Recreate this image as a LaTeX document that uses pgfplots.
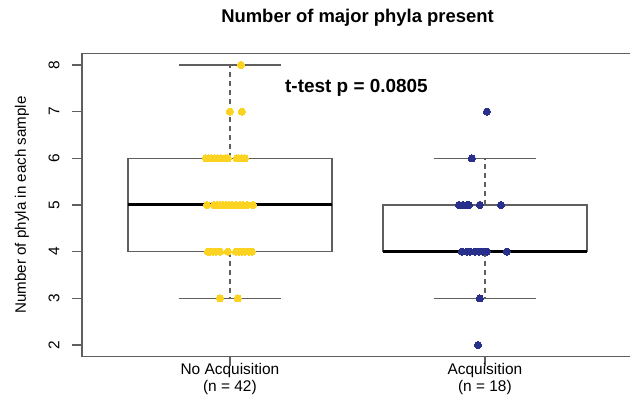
\documentclass[border=0pt]{standalone}
\usepackage{fontspec}
\setmainfont{Liberation Sans}
\usepackage{pgfplots}
\pgfplotsset{compat=1.18}
\definecolor{ptyellow}{RGB}{252,211,33}
\definecolor{ptblue}{RGB}{40,48,140}
\definecolor{axgray}{RGB}{95,95,95}
\begin{document}
\begin{tikzpicture}
\useasboundingbox (0,0) rectangle (630bp,398bp);
\begin{axis}[
  at={(82bp,41.8bp)}, anchor=south west,
  scale only axis, width=550.8bp, height=302.4bp,
  xmin=0.42, xmax=2.58, ymin=1.76, ymax=8.24,
  axis line style={draw=axgray, line width=1.2bp},
  tick style={draw=axgray, line width=1.2bp},
  tick align=outside, major tick length=10bp,
  xtick={1,2}, xtick pos=bottom, ytick pos=left,
  xticklabels={{No Acquisition\\(n = 42)},{Acquisition\\(n = 18)}},
  xticklabel style={align=center, font=\fontsize{15.5}{17}\selectfont, anchor=north, yshift=6bp},
  ytick={2,3,4,5,6,7,8},
  yticklabel style={rotate=90, anchor=south, font=\fontsize{15.5}{17}\selectfont, yshift=9bp},
  /pgf/number format/assume math mode=true,
  ylabel={Number of phyla in each sample},
  every axis y label/.style={at={(axis description cs:-0.109,0.5)}, rotate=90, anchor=center, font=\fontsize{15.2}{17}\selectfont},
  clip=false,
]
% boxes
\addplot[draw=axgray, line width=1.2bp] coordinates {(0.6,4) (1.4,4) (1.4,6) (0.6,6) (0.6,4)};
\addplot[draw=axgray, line width=1.2bp] coordinates {(1.6,4) (2.4,4) (2.4,5) (1.6,5) (1.6,4)};
% whiskers
\addplot[draw=axgray, line width=1.2bp, dash pattern=on 5bp off 4bp] coordinates {(1,6) (1,8)};
\addplot[draw=axgray, line width=1.2bp, dash pattern=on 5bp off 4bp] coordinates {(1,4) (1,3)};
\addplot[draw=axgray, line width=1.2bp, dash pattern=on 5bp off 4bp] coordinates {(2,5) (2,6)};
\addplot[draw=axgray, line width=1.2bp, dash pattern=on 5bp off 4bp] coordinates {(2,4) (2,3)};
% caps
\addplot[draw=axgray, line width=1.2bp] coordinates {(0.8,8) (1.2,8)};
\addplot[draw=axgray, line width=1.2bp] coordinates {(0.8,3) (1.2,3)};
\addplot[draw=axgray, line width=1.2bp] coordinates {(1.8,6) (2.2,6)};
\addplot[draw=axgray, line width=1.2bp] coordinates {(1.8,3) (2.2,3)};
% medians
\addplot[draw=black, line width=3bp] coordinates {(0.6,5) (1.4,5)};
\addplot[draw=black, line width=3bp] coordinates {(1.6,4) (2.4,4)};
% points group 1
\addplot[only marks, color=ptyellow, mark=*, mark size=3.6bp, mark options={fill=ptyellow, draw=ptyellow, line width=0pt}] coordinates {
(1.043,8)
(1.000,7) (1.047,7)
(0.906,6) (0.918,6) (0.929,6) (0.941,6) (0.953,6) (0.965,6) (0.984,6) (0.992,6) (1.027,6) (1.035,6) (1.047,6) (1.059,6)
(0.910,5) (0.937,5) (0.949,5) (0.961,5) (0.973,5) (0.984,5) (0.996,5) (1.008,5) (1.024,5) (1.039,5) (1.051,5) (1.067,5) (1.090,5)
(0.914,4) (0.922,4) (0.933,4) (0.945,4) (0.961,4) (0.992,4) (1.024,4) (1.035,4) (1.047,4) (1.059,4) (1.075,4) (1.086,4)
(0.961,3) (1.031,3)
};
% points group 2
\addplot[only marks, color=ptblue, mark=*, mark size=3.6bp, mark options={fill=ptblue, draw=ptblue, line width=0pt}] coordinates {
(2.008,7)
(1.949,6)
(1.898,5) (1.914,5) (1.929,5) (1.937,5) (1.980,5) (2.063,5)
(1.910,4) (1.929,4) (1.941,4) (1.961,4) (1.976,4) (1.992,4) (2.008,4) (2.086,4)
(1.980,3)
(1.973,2)
};
\node[anchor=base west, font=\fontsize{19}{21}\selectfont\bfseries, inner sep=0pt] at (axis cs:1.216,7.4) {t-test p = 0.0805};
\end{axis}
\node[anchor=base, font=\fontsize{18.5}{21}\selectfont\bfseries, inner sep=0pt] at (357.5bp,375bp) {Number of major phyla present};
\end{tikzpicture}
\end{document}
